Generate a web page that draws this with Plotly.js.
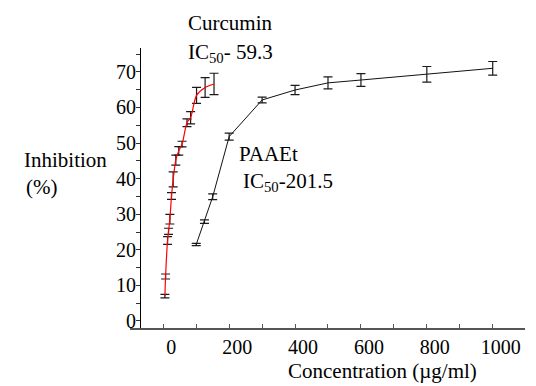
<!DOCTYPE html>
<html>
<head>
<meta charset="utf-8">
<script src="https://cdn.plot.ly/plotly-3.0.1.min.js"></script>
</head>
<body style="margin:0;background:#fff">
<div id="chart"></div>
<script>
// Data
const curcConc = [5, 7, 13, 16, 20, 25, 30, 38, 47, 57, 72, 83, 101, 127, 154];
const curcInh  = [7.0, 12.5, 22.6, 25.2, 28.6, 35.1, 39.8, 45.2, 47.8, 49.7, 55.7, 57.1, 63.4, 65.6, 66.6];
const curcErr  = [0.5, 0.7, 1.1, 0.85, 1.35, 0.95, 2.1, 1.4, 1.2, 0.8, 1.1, 1.7, 2.25, 2.8, 3.0];

const paaConc = [100, 125, 150, 200, 300, 400, 500, 600, 800, 1000];
const paaInh  = [21.5, 27.9, 34.9, 51.8, 62.1, 64.9, 66.9, 67.7, 69.3, 71.0];
const paaErr  = [0.3, 0.5, 0.8, 1.0, 0.8, 1.3, 1.7, 1.8, 2.2, 1.9];

const xTickVals = [0, 200, 400, 600, 800, 1000];
const yTickVals = [0, 10, 20, 30, 40, 50, 60, 70];

const labelCurcName = 'Curcumin';
const labelCurcIC = 'IC<sub>50</sub>- 59.3';
const labelPaaName = 'PAAEt';
const labelPaaIC = 'IC<sub>50</sub>-201.5';
const yTitle1 = 'Inhibition';
const yTitle2 = '(%)';
const xTitle = 'Concentration (\u00b5g/ml)';

const W = 536, H = 386;
const M = {l: 130, r: 11, t: 48, b: 58};
const pw = W - M.l - M.r, ph = H - M.t - M.b;
const px = x => (x - M.l) / pw;
const py = y => (H - M.b - y) / ph;

const FONT = 'Liberation Serif, serif';

const traces = [
  {
    x: curcConc, y: curcInh, type: 'scatter', mode: 'lines',
    line: {color: '#ff0000', width: 1.2, shape: 'spline', smoothing: 0.8},
    error_y: {type: 'data', array: curcErr, visible: true, color: '#1a1a1a', thickness: 1.2, width: 4.5},
    showlegend: false, hoverinfo: 'skip'
  },
  {
    x: paaConc, y: paaInh, type: 'scatter', mode: 'lines',
    line: {color: '#111111', width: 1},
    error_y: {type: 'data', array: paaErr, visible: true, color: '#1a1a1a', thickness: 1.2, width: 4.5},
    showlegend: false, hoverinfo: 'skip'
  }
];

function ann(text, x, y, size) {
  return {text: text, xref: 'paper', yref: 'paper', x: px(x), y: py(y),
          xanchor: 'left', yanchor: 'middle', showarrow: false,
          font: {family: FONT, size: size || 21}};
}

const layout = {
  width: W, height: H,
  margin: M,
  paper_bgcolor: '#ffffff', plot_bgcolor: '#ffffff',
  font: {family: FONT, color: '#000000'},
  showlegend: false,
  xaxis: {
    range: [-101, 1098],
    tickvals: xTickVals,
    ticks: 'inside', ticklen: 4, tickcolor: '#555555', tickwidth: 1,
    minor: {dtick: 100, tick0: 0, ticks: 'inside', ticklen: 4, tickcolor: '#555555', tickwidth: 1},
    showline: true, linecolor: '#555555', linewidth: 1.5,
    showgrid: false, zeroline: false,
    ticklabelshift: 8,
    tickfont: {family: FONT, size: 20}
  },
  yaxis: {
    range: [-1.97, 76.7],
    anchor: 'free', position: px(140),
    tickvals: yTickVals,
    ticks: 'outside', ticklen: 0, tickcolor: '#000000',
    minor: {dtick: 5, tick0: 0, ticks: 'outside', ticklen: 4, tickcolor: '#333333', tickwidth: 1},
    showline: true, linecolor: '#000000', linewidth: 1,
    showgrid: false, zeroline: false,
    tickfont: {family: FONT, size: 20}
  },
  annotations: [
    ann(labelCurcName, 186, 23),
    ann(labelCurcIC, 186, 53),
    ann(labelPaaName, 237, 154),
    ann(labelPaaIC, 241, 182),
    ann(yTitle1, 22, 160),
    ann(yTitle2, 24, 187),
    ann(xTitle, 286, 371)
  ]
};

Plotly.newPlot('chart', traces, layout, {displayModeBar: false});
</script>
</body>
</html>
